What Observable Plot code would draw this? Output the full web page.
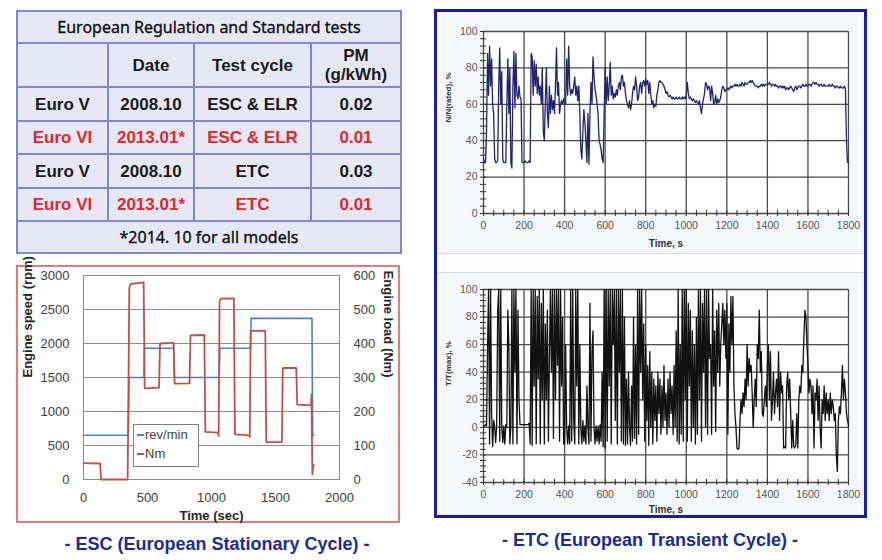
<!DOCTYPE html>
<html><head><meta charset="utf-8">
<script src="https://cdn.jsdelivr.net/npm/d3@7"></script>
<script src="https://cdn.jsdelivr.net/npm/@observablehq/plot@0.6"></script>
<style>
body{margin:0;width:882px;height:560px;position:relative;background:#fff;overflow:hidden;font-family:"Liberation Sans",Arial,sans-serif}
.abs{position:absolute}
#tbl table{border-collapse:collapse;width:384px;height:242px;table-layout:fixed;background:#e8e8f5}
#tbl td{border:2px solid #8585d8;text-align:center;vertical-align:middle;padding:0;font-weight:bold;font-size:17px;color:#1a1a1a;white-space:pre-line;line-height:19px}
#tbl td.title,#tbl td.foot{font-family:"Noto Sans",sans-serif;font-weight:normal;font-size:16px;color:#111;-webkit-text-stroke:0.35px #111}
#tbl td.red{color:#e3262e}
.cap{font-weight:bold;font-size:18px;color:#1d2a9b;text-align:center;line-height:20px}
#legend{left:133px;top:424px;width:64px;height:41px;border:1px solid #7f7f7f;background:#fff;font-size:13px;color:#404040}
#legend div{height:19px;line-height:19px;padding-left:3px;display:flex;align-items:center}
#legend span.sw{display:inline-block;width:7px;height:2px;margin-right:1px}
</style></head><body>
<div id="tbl" class="abs" style="left:16px;top:10px"></div>

<div class="abs" style="left:16px;top:265px;width:384px;height:258px;border:2px solid #e57a7a;box-sizing:border-box"></div>
<div id="escA" class="abs" style="left:16px;top:265px"></div>
<div id="escB" class="abs" style="left:16px;top:265px"></div>
<div id="legend" class="abs"></div>
<div class="abs cap" style="left:17px;top:534px;width:400px">- ESC (European Stationary Cycle) -</div>

<div class="abs" style="left:434px;top:9px;width:433px;height:509px;border:3px solid #1b1ba8;box-sizing:border-box;background:#f6f7f9"></div>
<div class="abs" style="left:437px;top:253px;width:427px;height:20px;background:#fdfdfd;border-top:1px solid #d8d8dc;border-bottom:1px solid #d8d8dc;box-sizing:border-box"></div>
<div id="etcA" class="abs" style="left:437px;top:10px"></div>
<div id="etcB" class="abs" style="left:437px;top:273px"></div>
<div class="abs cap" style="left:450px;top:530px;width:400px">- ETC (European Transient Cycle) -</div>

<script>
// ---------- table data ----------
const tableTitle = "European Regulation and Standard tests";
const tableHeaders = ["", "Date", "Test cycle", "PM\n(g/kWh)"];
const stages = ["Euro V", "Euro VI", "Euro V", "Euro VI"];
const dates = ["2008.10", "2013.01*", "2008.10", "2013.01*"];
const cycles = ["ESC & ELR", "ESC & ELR", "ETC", "ETC"];
const pmLimits = ["0.02", "0.01", "0.03", "0.01"];
const footnote = "*2014. 10 for all models";

// ---------- ESC data ----------
const escTimeTicks = [0, 500, 1000, 1500, 2000];
const escSpeedTicks = [0, 500, 1000, 1500, 2000, 2500, 3000];
const escLoadTicks = [0, 100, 200, 300, 400, 500, 600];
const escSeriesNames = ["rev/min", "Nm"];
const escSeriesColors = ["#4f81bd", "#c0504d"];
const escSpeedTime = [0, 350, 356, 472, 476, 705, 710, 1060, 1065, 1305, 1310, 1785, 1790, 1800];
const escSpeedRpm  = [650, 650, 1500, 1500, 1930, 1930, 1500, 1500, 1930, 1930, 2370, 2370, 650, 650];
const escLoadTime = [0, 130, 138, 345, 358, 370, 470, 478, 590, 598, 704, 712, 828, 836, 944, 952, 1052, 1056, 1063, 1075, 1175, 1183, 1295, 1299, 1306, 1420, 1428, 1550, 1557, 1662, 1670, 1778, 1781, 1788, 1795, 1800];
const escLoadNm   = [48, 47, 0, 0, 565, 575, 580, 268, 270, 400, 402, 282, 283, 424, 425, 140, 138, 128, 525, 532, 533, 133, 130, 125, 437, 438, 110, 110, 328, 328, 220, 218, 250, 15, 40, 43];

// ---------- ETC data (sampled every 5 s, 0..1800 s) ----------
const etcSampleStep = 5;
const etcTimeTicks = [0, 200, 400, 600, 800, 1000, 1200, 1400, 1600, 1800];
const etcMinorTime = [0,50,100,150,200,250,300,350,400,450,500,550,600,650,700,750,800,850,900,950,1000,1050,1100,1150,1200,1250,1300,1350,1400,1450,1500,1550,1600,1650,1700,1750,1800];
const speedTicks = [0, 20, 40, 60, 80, 100];
const speedMinor = [0,4,8,12,16,20,24,28,32,36,40,44,48,52,56,60,64,68,72,76,80,84,88,92,96,100];
const torqueTicks = [-40, -20, 0, 20, 40, 60, 80, 100];
const torqueMinor = [-40,-36,-32,-28,-24,-20,-16,-12,-8,-4,0,4,8,12,16,20,24,28,32,36,40,44,48,52,56,60,64,68,72,76,80,84,88,92,96,100];
const etcSpeedPct = [
 30,28,28,45,88,65,92,70,85,60,55,30,28,28,29,70,91,60,78,30,
 28,28,28,60,85,55,80,28,25,70,89,58,88,65,63,70,64,63,28,28,
 28,29,28,28,28,29,28,88,86,65,84,70,82,66,75,65,70,60,80,45,
 40,62,80,55,47,70,55,65,57,62,55,70,91,65,72,55,60,62,60,63,
 61,60,85,65,92,70,65,68,66,70,75,65,70,62,70,55,35,30,45,57,
 50,40,28,55,27,55,72,60,86,75,68,65,60,55,40,38,35,30,28,55,
 80,60,75,62,70,83,65,70,63,66,64,68,65,70,72,68,75,76,70,72,
 66,62,60,58,62,57,60,66,70,68,75,70,62,64,70,72,66,72,73,70,
 74,71,73,66,72,65,60,62,58,60,59,65,68,72,73,72,72,71,70,68,
 66,67,65,64,65,64,63,64,63,63,64,63,63,64,63,63,64,63,64,63,
 65,72,66,63,64,63,62,63,62,61,62,61,60,62,58,55,60,63,66,72,
 71,68,70,69,62,70,66,60,61,65,60,63,61,62,64,68,70,69,67,68,
 68,69,68,69,70,69,70,70,71,70,71,70,70,71,70,72,71,70,72,71,
 71,72,72,73,72,73,72,71,70,70,70,69,70,70,71,70,71,70,71,71,
 71,71,72,71,70,71,71,70,71,70,70,69,70,70,69,70,69,70,68,69,
 69,68,69,70,69,68,67,69,70,68,69,70,70,69,70,71,70,70,71,70,
 70,71,71,70,71,72,72,71,72,71,71,70,71,71,70,70,71,70,70,70,
 70,71,70,70,71,70,70,69,70,70,69,69,70,69,69,69,70,68,40,28,
 28];
const etcTorquePct = [
 1,1,2,1,60,100,-12,100,10,-14,5,0,-11,1,85,100,-10,100,0,-11,
 1,-12,2,0,85,60,-12,1,100,-12,100,40,100,-12,85,20,2,2,2,2,
 2,2,2,2,2,3,-12,100,-13,100,30,100,-12,95,35,100,-12,90,20,100,
 -12,75,20,85,-10,50,100,40,100,-8,100,20,100,45,100,-10,100,30,80,-12,
 -12,60,0,-12,1,-12,100,-10,100,5,-12,100,30,100,-12,60,0,-12,5,-10,
 1,-12,30,0,-12,90,-10,55,70,0,-12,1,-10,1,-12,2,-10,40,-14,100,
 -15,100,-10,100,30,100,-12,100,60,100,5,100,-12,100,40,100,-10,100,-12,80,
 -13,35,-12,40,0,-13,30,-10,80,-8,60,-12,100,-5,100,40,100,20,75,-10,
 60,5,45,-13,55,0,40,-12,35,5,30,-10,40,10,35,-5,30,0,45,5,
 25,-5,35,0,40,10,30,-5,45,0,70,-10,100,-12,60,-5,100,-10,100,20,
 100,-10,90,30,85,-10,70,0,60,-12,80,-5,100,20,100,-10,90,40,100,0,
 100,-5,100,50,60,-5,100,30,70,-3,85,40,90,30,60,75,90,60,85,50,
 90,-5,75,40,95,60,95,30,10,0,-15,-16,-15,5,20,10,25,15,35,20,
 60,30,50,40,45,25,0,20,35,15,60,50,85,40,55,10,8,20,30,15,
 45,60,20,55,5,20,40,10,25,35,15,55,5,40,25,30,-15,-14,-15,30,
 40,20,35,10,-15,5,-14,-15,-13,10,-15,20,30,25,45,40,65,85,80,60,
 45,25,35,30,10,30,-15,25,20,35,5,30,0,-15,20,10,30,5,25,10,
 20,5,25,10,20,15,5,10,-20,-32,5,15,10,25,45,20,35,25,10,5,
 1];

const plain = d => String(d);

// ---------- table ----------
{
  const rows = [];
  rows.push(`<tr style="height:32px"><td class="title" colspan="4">${tableTitle}</td></tr>`);
  rows.push(`<tr style="height:44px">${tableHeaders.map(h => `<td>${h}</td>`).join("")}</tr>`);
  stages.forEach((s, i) => {
    const cls = s === "Euro VI" ? ' class="red"' : "";
    rows.push(`<tr style="height:${i % 2 ? 33 : 34}px"><td${cls}>${s}</td><td${cls}>${dates[i]}</td><td${cls}>${cycles[i].replace("&", "&amp;")}</td><td${cls}>${pmLimits[i]}</td></tr>`);
  });
  rows.push(`<tr style="height:32px"><td class="foot" colspan="4">${footnote}</td></tr>`);
  document.getElementById("tbl").innerHTML =
    `<table><colgroup><col style="width:91px"><col style="width:86px"><col style="width:117px"><col style="width:90px"></colgroup>${rows.join("")}</table>`;
}

// ---------- ESC ----------
const escSpeed = escSpeedTime.map((t, i) => ({t, v: escSpeedRpm[i]}));
const escLoad = escLoadTime.map((t, i) => ({t, v: escLoadNm[i]}));
const escCommon = {
  width: 384, height: 258, marginLeft: 67, marginRight: 61, marginTop: 10, marginBottom: 44,
  style: {background: "transparent", fontFamily: "Liberation Sans, Arial, sans-serif", fontSize: "13px", color: "#404040", overflow: "visible"}
};
document.getElementById("escA").append(Plot.plot({
  ...escCommon,
  x: {domain: [0, 2000]},
  y: {domain: [0, 3000]},
  marks: [
    Plot.gridY(escSpeedTicks, {stroke: "#8c8c8c", strokeOpacity: 1}),
    Plot.frame({stroke: "#8c8c8c"}),
    Plot.axisY(escSpeedTicks, {tickSize: 0, tickPadding: 14, fontSize: 13, label: null, tickFormat: plain}),
    Plot.axisX(escTimeTicks, {tickSize: 0, tickPadding: 13, fontSize: 13, label: null, tickFormat: plain}),
    Plot.text(["Time (sec)"], {text: d => d, frameAnchor: "bottom", dy: 40, fontWeight: "bold", fontSize: 13, fill: "#262626"}),
    Plot.text(["Engine speed (rpm)"], {text: d => d, frameAnchor: "left", dx: -56, rotate: -90, fontWeight: "bold", fontSize: 13, fill: "#262626"}),
    Plot.line(escSpeed, {x: "t", y: "v", stroke: escSeriesColors[0], strokeWidth: 1.6})
  ]
}));
document.getElementById("escB").append(Plot.plot({
  ...escCommon,
  x: {domain: [0, 2000], axis: null},
  y: {domain: [0, 600]},
  marks: [
    Plot.axisY(escLoadTicks, {anchor: "right", tickSize: 0, tickPadding: 14, fontSize: 13, label: null, tickFormat: plain}),
    Plot.text(["Engine load (Nm)"], {text: d => d, frameAnchor: "right", dx: 49, rotate: 90, fontWeight: "bold", fontSize: 13, fill: "#262626"}),
    Plot.line(escLoad, {x: "t", y: "v", stroke: escSeriesColors[1], strokeWidth: 1.8})
  ]
}));
document.getElementById("legend").innerHTML = escSeriesNames
  .map((n, i) => `<div><span class="sw" style="background:${escSeriesColors[i]}"></span>${n}</div>`).join("");

// ---------- ETC ----------
function etcPlot({values, yDomain, yTicks, yMinor, yLabel, height, marginTop, marginBottom, labelDy, stroke, strokeWidth}) {
  const data = values.map((v, i) => ({t: i * etcSampleStep, v}));
  return Plot.plot({
    width: 427, height, marginLeft: 46, marginRight: 16, marginTop, marginBottom,
    x: {domain: [0, 1800]},
    y: {domain: yDomain},
    style: {background: "transparent", fontFamily: "Liberation Sans, Arial, sans-serif", fontSize: "10.5px", color: "#555", overflow: "visible"},
    marks: [
      Plot.frame({fill: "white", stroke: "#555"}),
      Plot.gridX(etcTimeTicks, {stroke: "#4a4a4a", strokeOpacity: 1, strokeWidth: 1.3}),
      Plot.gridY(yTicks, {stroke: "#4a4a4a", strokeOpacity: 1, strokeWidth: 1.3}),
      Plot.axisX(etcMinorTime, {tickSize: 6, dy: -3, tickFormat: () => "", stroke: "#333", label: null}),
      Plot.axisY(yMinor, {tickSize: 6, dx: 3, tickFormat: () => "", stroke: "#333", label: null}),
      Plot.axisX(etcTimeTicks, {tickSize: 0, tickPadding: 8, label: null, tickFormat: plain}),
      Plot.axisY(yTicks, {tickSize: 0, tickPadding: 6, label: null, tickFormat: plain}),
      Plot.line(data, {x: "t", y: "v", stroke, strokeWidth}),
      Plot.text(["Time, s"], {text: d => d, frameAnchor: "bottom", dy: labelDy, fontWeight: "bold", fontSize: 10, fill: "#333"}),
      Plot.text([yLabel], {text: d => d, frameAnchor: "left", dx: -35, rotate: -90, fontWeight: "bold", fontSize: 8, fill: "#333"})
    ]
  });
}
document.getElementById("etcA").append(etcPlot({
  values: etcSpeedPct, yDomain: [0, 100], yTicks: speedTicks, yMinor: speedMinor, yLabel: "N/N(rated), %",
  height: 243, marginTop: 21, marginBottom: 40, labelDy: 33, stroke: "#23236f", strokeWidth: 1.3
}));
document.getElementById("etcB").append(etcPlot({
  values: etcTorquePct, yDomain: [-40, 100], yTicks: torqueTicks, yMinor: torqueMinor, yLabel: "T/T(max), %",
  height: 242, marginTop: 16, marginBottom: 33, labelDy: 30, stroke: "#111", strokeWidth: 1.3
}));
</script>
</body></html>
